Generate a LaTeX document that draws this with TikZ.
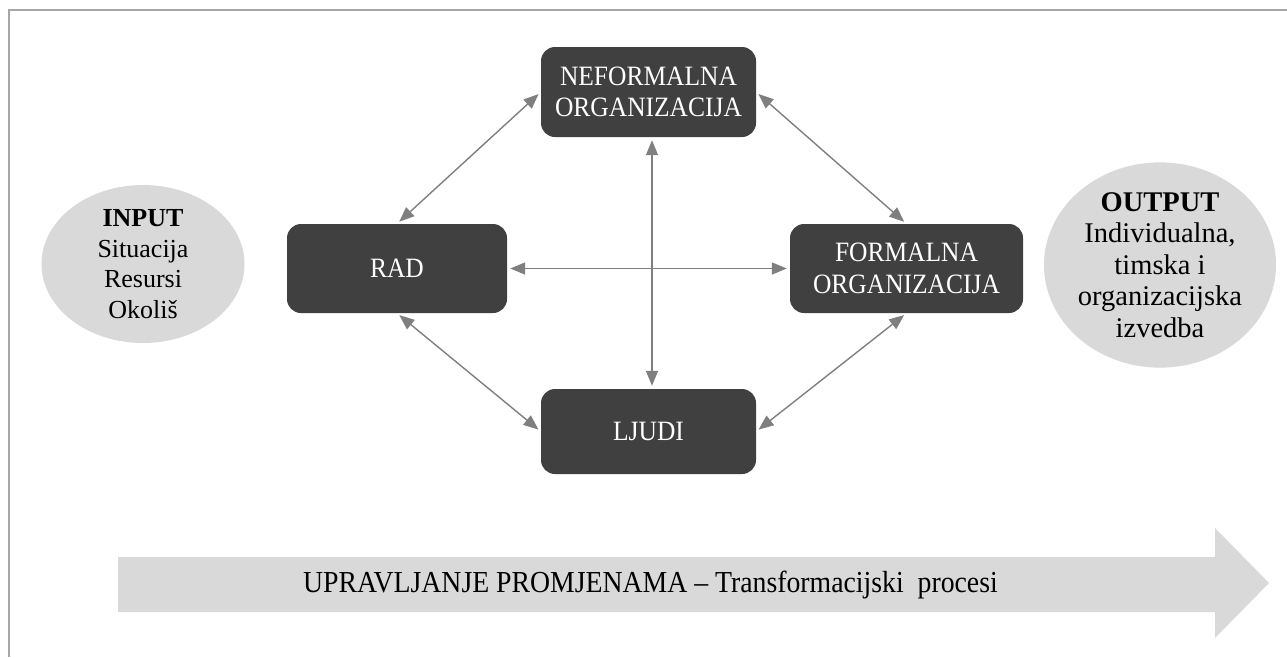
\documentclass[tikz,border=0pt]{standalone}
\usepackage{fontspec}
\setmainfont{Liberation Serif}
% slightly narrowed face for the labels in the boxes and on the arrow
\newfontfamily\narrowserif[FakeStretch=0.91]{Liberation Serif}
\usetikzlibrary{arrows.meta,shapes.geometric}
\definecolor{boxfill}{HTML}{404040}
\definecolor{softgray}{HTML}{D9D9D9}
\definecolor{linkgray}{HTML}{7F7F7F}
\definecolor{framegray}{HTML}{A6A6A6}
\begin{document}
\begin{tikzpicture}[x=1pt,y=-1pt,
  darkbox/.style={draw=none, fill=boxfill, rounded corners=14pt, text=white,
    align=center, inner sep=0pt,
    font=\narrowserif\fontsize{28}{31.5}\selectfont},
  blob/.style={ellipse, fill=softgray, draw=none, align=center, inner sep=0pt},
  link/.style={draw=linkgray, line width=1.4pt,
    {Triangle[length=15pt,width=12pt]}-{Triangle[length=15pt,width=12pt]},
    shorten <=3pt, shorten >=3pt}
]
\useasboundingbox (0,0) rectangle (1287,657);
% outer frame (top and left edges)
\draw[framegray, line width=2.5pt] (1287,10) -- (9,10) -- (9,657);

% core elements of the organisation
\node[darkbox, minimum width=215pt, minimum height=90pt] (nef) at (648.5,92)
  {NEFORMALNA\\ORGANIZACIJA};
\node[darkbox, minimum width=220pt, minimum height=89pt] (rad) at (397,268.5) {RAD};
\node[darkbox, minimum width=233pt, minimum height=89pt] (form) at (906.5,268.5)
  {FORMALNA\\ORGANIZACIJA};
\node[darkbox, minimum width=215pt, minimum height=85pt] (ljudi) at (648.5,431.5) {LJUDI};

% input and output
\node[blob, minimum width=203pt, minimum height=158pt,
  font=\fontsize{26}{30.5}\selectfont] (in) at (143,264)
  {\textbf{INPUT}\\Situacija\\Resursi\\Okoliš};
\node[blob, minimum width=222pt, minimum height=196pt,
  font=\fontsize{28.5}{31.5}\selectfont] (out) at (1160,265)
  {\textbf{OUTPUT}\\Individualna,\\timska i\\organizacijska\\izvedba};

% mutual relations
\draw[link] (rad.north) -- (nef.west);
\draw[link] (nef.east) -- (form.north);
\draw[link] (rad.east) -- (form.west);
\draw[link] ([xshift=3.5pt]nef.south) -- ([xshift=3.5pt]ljudi.north);
\draw[link] (rad.south) -- (ljudi.west);
\draw[link] (form.south) -- (ljudi.east);

% change management arrow
\fill[softgray] (118,557) -- (1215,557) -- (1215,528) -- (1269,583)
  -- (1215,638) -- (1215,612) -- (118,612) -- cycle;
\node[font=\narrowserif\fontsize{30.5}{34}\selectfont, inner sep=0pt] (proc) at (650.5,585)
  {UPRAVLJANJE PROMJENAMA – Transformacijski\ \ procesi};
\end{tikzpicture}
\end{document}
